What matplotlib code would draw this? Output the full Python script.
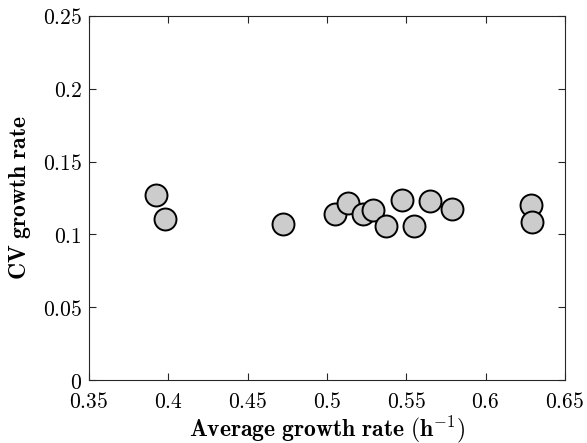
import matplotlib.pyplot as plt
from matplotlib.ticker import FuncFormatter

plt.rcParams["mathtext.fontset"] = "cm"
plt.rcParams["font.family"] = "serif"
plt.rcParams["font.serif"] = ["DejaVu Serif"]

# average growth rate (1/h) and CV of growth rate per lineage
avg_rate = [0.392, 0.398, 0.472, 0.505, 0.513, 0.523, 0.529, 0.537,
            0.547, 0.555, 0.565, 0.579, 0.6285, 0.629]
cv_rate = [0.127, 0.1106, 0.107, 0.114, 0.1216, 0.114, 0.1168, 0.1058,
           0.1236, 0.1058, 0.123, 0.1174, 0.120, 0.1085]

xticks = [0.35, 0.4, 0.45, 0.5, 0.55, 0.6, 0.65]
yticks = [0, 0.05, 0.1, 0.15, 0.2, 0.25]

fig = plt.figure(figsize=(5.87, 4.43), dpi=100)
ax = fig.add_axes([0.1516, 0.1422, 0.8109, 0.8217])

ax.scatter(avg_rate, cv_rate, s=250, facecolor="#cccccc",
           edgecolor="black", linewidth=1.4, zorder=3)

ax.set_xlim(0.35, 0.65)
ax.set_ylim(0, 0.25)
ax.set_xticks(xticks)
ax.set_yticks(yticks)

fmt = FuncFormatter(lambda v, p: "$%s$" % ("%g" % v))
ax.xaxis.set_major_formatter(fmt)
ax.yaxis.set_major_formatter(fmt)

ax.tick_params(direction="in", length=5, width=0.8, color="#262626",
               labelsize=15.5, top=True, right=True)
ax.tick_params(axis="x", pad=8)
ax.tick_params(axis="y", pad=5)
for sp in ax.spines.values():
    sp.set_color("#262626")
    sp.set_linewidth(0.8)

ax.set_xlabel(r"$\mathbf{Average\ growth\ rate\ (h^{-1})}$", fontsize=17)
ax.set_ylabel(r"$\mathbf{CV\ growth\ rate}$", fontsize=17)
ax.xaxis.set_label_coords(0.5, -0.092)
ax.yaxis.set_label_coords(-0.118, 0.5)

fig.savefig("out.png", dpi=100)
